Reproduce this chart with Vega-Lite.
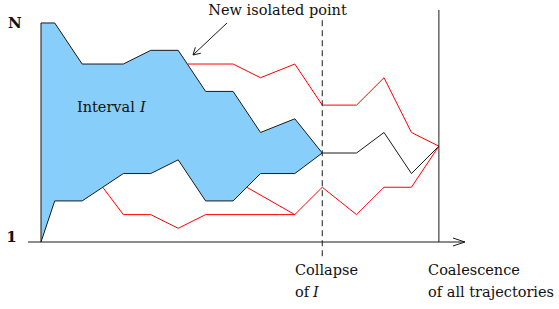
{
  "$schema": "https://vega.github.io/schema/vega-lite/v6.json",
  "autosize": {"type": "fit", "contains": "padding"},
  "width": 559,
  "height": 309,
  "padding": 0,
  "background": "white",
  "config": {"view": {"stroke": null}},
  "datasets": {
    "band": [
      {"t": 0, "hi": 16, "lo": 0},
      {"t": 1, "hi": 16, "lo": 3},
      {"t": 3, "hi": 13, "lo": 3},
      {"t": 6, "hi": 13, "lo": 5},
      {"t": 8, "hi": 14, "lo": 5},
      {"t": 10, "hi": 14, "lo": 6},
      {"t": 12, "hi": 11, "lo": 3},
      {"t": 14, "hi": 11, "lo": 3},
      {"t": 16, "hi": 8, "lo": 5},
      {"t": 18.5, "hi": 9, "lo": 5},
      {"t": 20.5, "hi": 6.5, "lo": 6.5}
    ],
    "paths": [
      {"path": "left", "kind": "black", "i": 0, "t": 0, "v": 0},
      {"path": "left", "kind": "black", "i": 1, "t": 0, "v": 16},
      {"path": "upper", "kind": "black", "i": 0, "t": 0, "v": 16},
      {"path": "upper", "kind": "black", "i": 1, "t": 1, "v": 16},
      {"path": "upper", "kind": "black", "i": 2, "t": 3, "v": 13},
      {"path": "upper", "kind": "black", "i": 3, "t": 6, "v": 13},
      {"path": "upper", "kind": "black", "i": 4, "t": 8, "v": 14},
      {"path": "upper", "kind": "black", "i": 5, "t": 10, "v": 14},
      {"path": "upper", "kind": "black", "i": 6, "t": 12, "v": 11},
      {"path": "upper", "kind": "black", "i": 7, "t": 14, "v": 11},
      {"path": "upper", "kind": "black", "i": 8, "t": 16, "v": 8},
      {"path": "upper", "kind": "black", "i": 9, "t": 18.5, "v": 9},
      {"path": "upper", "kind": "black", "i": 10, "t": 20.5, "v": 6.5},
      {"path": "lower", "kind": "black", "i": 0, "t": 0, "v": 0},
      {"path": "lower", "kind": "black", "i": 1, "t": 1, "v": 3},
      {"path": "lower", "kind": "black", "i": 2, "t": 3, "v": 3},
      {"path": "lower", "kind": "black", "i": 3, "t": 6, "v": 5},
      {"path": "lower", "kind": "black", "i": 4, "t": 8, "v": 5},
      {"path": "lower", "kind": "black", "i": 5, "t": 10, "v": 6},
      {"path": "lower", "kind": "black", "i": 6, "t": 12, "v": 3},
      {"path": "lower", "kind": "black", "i": 7, "t": 14, "v": 3},
      {"path": "lower", "kind": "black", "i": 8, "t": 16, "v": 5},
      {"path": "lower", "kind": "black", "i": 9, "t": 18.5, "v": 5},
      {"path": "lower", "kind": "black", "i": 10, "t": 20.5, "v": 6.5},
      {"path": "right", "kind": "black", "i": 0, "t": 20.5, "v": 6.5},
      {"path": "right", "kind": "black", "i": 1, "t": 23, "v": 6.5},
      {"path": "right", "kind": "black", "i": 2, "t": 25, "v": 8},
      {"path": "right", "kind": "black", "i": 3, "t": 27, "v": 5},
      {"path": "right", "kind": "black", "i": 4, "t": 29, "v": 7},
      {"path": "r1", "kind": "red", "i": 0, "t": 10.67, "v": 13},
      {"path": "r1", "kind": "red", "i": 1, "t": 14, "v": 13},
      {"path": "r1", "kind": "red", "i": 2, "t": 16, "v": 12},
      {"path": "r1", "kind": "red", "i": 3, "t": 18.5, "v": 13},
      {"path": "r1", "kind": "red", "i": 4, "t": 20.5, "v": 10},
      {"path": "r1", "kind": "red", "i": 5, "t": 23, "v": 10},
      {"path": "r1", "kind": "red", "i": 6, "t": 25, "v": 12},
      {"path": "r1", "kind": "red", "i": 7, "t": 27, "v": 8},
      {"path": "r1", "kind": "red", "i": 8, "t": 29, "v": 7},
      {"path": "r2", "kind": "red", "i": 0, "t": 4.5, "v": 4},
      {"path": "r2", "kind": "red", "i": 1, "t": 6, "v": 2},
      {"path": "r2", "kind": "red", "i": 2, "t": 8, "v": 2},
      {"path": "r2", "kind": "red", "i": 3, "t": 10, "v": 1},
      {"path": "r2", "kind": "red", "i": 4, "t": 12, "v": 2},
      {"path": "r2", "kind": "red", "i": 5, "t": 18.5, "v": 2},
      {"path": "r2", "kind": "red", "i": 6, "t": 20.5, "v": 4},
      {"path": "r2", "kind": "red", "i": 7, "t": 23, "v": 2},
      {"path": "r2", "kind": "red", "i": 8, "t": 25, "v": 4},
      {"path": "r2", "kind": "red", "i": 9, "t": 27, "v": 4},
      {"path": "r2", "kind": "red", "i": 10, "t": 29, "v": 7},
      {"path": "r3", "kind": "red", "i": 0, "t": 15, "v": 4},
      {"path": "r3", "kind": "red", "i": 1, "t": 18.5, "v": 2},
      {"path": "axis", "kind": "black", "i": 0, "t": -0.95, "v": 0},
      {"path": "axis", "kind": "black", "i": 1, "t": 30.9, "v": 0},
      {"path": "axishead", "kind": "black", "i": 0, "t": 30.03, "v": 0.29},
      {"path": "axishead", "kind": "black", "i": 1, "t": 30.9, "v": 0},
      {"path": "axishead", "kind": "black", "i": 2, "t": 30.03, "v": -0.29},
      {"path": "coal", "kind": "black", "i": 0, "t": 29, "v": 0},
      {"path": "coal", "kind": "black", "i": 1, "t": 29, "v": 16.95},
      {"path": "note", "kind": "black", "i": 0, "t": 13.56, "v": 16.0},
      {"path": "note", "kind": "black", "i": 1, "t": 11.08, "v": 13.66},
      {"path": "notehead", "kind": "black", "i": 0, "t": 11.65, "v": 13.79},
      {"path": "notehead", "kind": "black", "i": 1, "t": 11.08, "v": 13.66},
      {"path": "notehead", "kind": "black", "i": 2, "t": 11.25, "v": 14.22}
    ],
    "dashed": [
      {"path": "collapse", "i": 0, "t": 20.5, "v": 16.2},
      {"path": "collapse", "i": 1, "t": 20.5, "v": -1.17}
    ],
    "title": [
      {"text": "New isolated point", "t": 17.24, "v": 16.58}
    ],
    "labels": [
      {"text": "Interval", "t": 2.62, "v": 9.52},
      {"text": "Collapse", "t": 18.51, "v": -2.41},
      {"text": "of", "t": 18.51, "v": -4.02},
      {"text": "Coalescence", "t": 28.21, "v": -2.41},
      {"text": "of all trajectories", "t": 28.21, "v": -4.02}
    ],
    "italic": [
      {"text": "I", "t": 7.22, "v": 9.52},
      {"text": "I", "t": 19.83, "v": -4.02}
    ],
    "ylabels": [
      {"text": "N", "t": -1.9, "v": 15.63},
      {"text": "1", "t": -2.15, "v": 0}
    ]
  },
  "encoding": {
    "x": {"field": "t", "type": "quantitative", "scale": {"domain": [-2.988, 37.755], "nice": false, "zero": false}, "axis": null},
    "y": {"field": "v", "type": "quantitative", "scale": {"domain": [-4.894, 17.677], "nice": false, "zero": false}, "axis": null}
  },
  "layer": [
    {
      "data": {"name": "band"},
      "mark": {"type": "area", "color": "#87cefa", "opacity": 1},
      "encoding": {
        "y": {"field": "hi", "type": "quantitative"},
        "y2": {"field": "lo"}
      }
    },
    {
      "data": {"name": "paths"},
      "mark": {"type": "line", "strokeWidth": 1, "strokeJoin": "miter"},
      "encoding": {
        "detail": {"field": "path"},
        "order": {"field": "i", "type": "quantitative"},
        "color": {"field": "kind", "type": "nominal", "scale": {"domain": ["black", "red"], "range": ["#1a1a1a", "#ff0000"]}, "legend": null}
      }
    },
    {
      "data": {"name": "dashed"},
      "mark": {"type": "line", "strokeWidth": 1, "color": "#1a1a1a", "strokeDash": [6, 4]},
      "encoding": {
        "detail": {"field": "path"},
        "order": {"field": "i", "type": "quantitative"}
      }
    },
    {
      "data": {"name": "title"},
      "mark": {"type": "text", "font": "DejaVu Serif", "fontSize": 14.5, "baseline": "alphabetic", "align": "center", "color": "#111"},
      "encoding": {"text": {"field": "text"}}
    },
    {
      "data": {"name": "labels"},
      "mark": {"type": "text", "font": "DejaVu Serif", "fontSize": 14.5, "baseline": "alphabetic", "align": "left", "color": "#111"},
      "encoding": {"text": {"field": "text"}}
    },
    {
      "data": {"name": "italic"},
      "mark": {"type": "text", "font": "DejaVu Serif", "fontSize": 14.5, "fontStyle": "italic", "baseline": "alphabetic", "align": "left", "color": "#111"},
      "encoding": {"text": {"field": "text"}}
    },
    {
      "data": {"name": "ylabels"},
      "mark": {"type": "text", "font": "DejaVu Serif", "fontSize": 15, "fontWeight": "bold", "baseline": "alphabetic", "align": "center", "color": "#111"},
      "encoding": {"text": {"field": "text"}}
    }
  ]
}
